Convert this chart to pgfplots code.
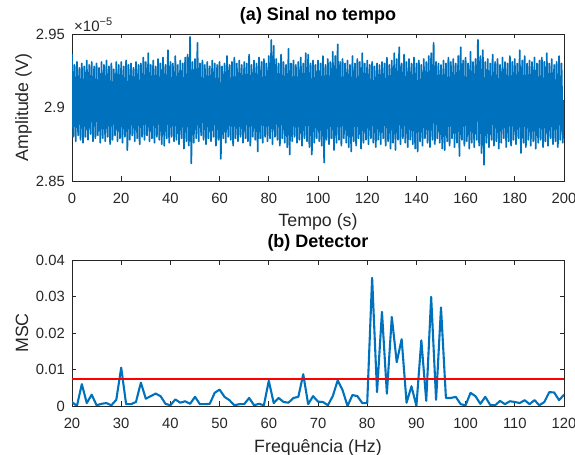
\documentclass[border=0pt]{standalone}
\usepackage{fontspec}
\setmainfont{Liberation Sans}
\usepackage{pgfplots}
\pgfplotsset{compat=1.18}
\definecolor{mblue}{RGB}{0,114,189}
\definecolor{axgray}{RGB}{38,38,38}
\pgfplotsset{
 mstyle/.style={
  scale only axis, width=492bp,
  axis line style={axgray, line width=0.7bp},
  tick style={axgray, line width=0.7bp},
  tick align=inside, major tick length=4.5bp,
  ticklabel style={font=\fontsize{14.8bp}{16bp}\selectfont, text=axgray},
  /pgf/number format/assume math mode=true,
  scaled ticks=false,
  yticklabel style={inner xsep=0pt, xshift=-7bp, anchor=east},
  xticklabel style={inner ysep=0pt, yshift=-12bp, anchor=north},
  label style={font=\fontsize{17.8bp}{20bp}\selectfont, text=axgray},
  xlabel style={at={(axis description cs:0.5,0)}, anchor=base, yshift=-46bp},
  ylabel style={at={(axis description cs:-0.0894,0.5)}, anchor=base},
 }
}
\begin{document}
\begin{tikzpicture}
\path[use as bounding box] (0,0) rectangle (575bp,455bp);
% ---------- (a) ----------
\begin{axis}[mstyle, name=a, height=147bp, at={(72bp,274bp)}, anchor=south west,
  xmin=0, xmax=200, ymin=2.85, ymax=2.95,
  xtick={0,20,40,60,80,100,120,140,160,180,200},
  xticklabels={0,20,40,60,80,100,120,140,160,180,200},
  ytick={2.85,2.9,2.95}, yticklabels={2.85,2.9,2.95},
  xlabel={Tempo (s)}, ylabel={Amplitude (V)},
  title={(a) Sinal no tempo},
  title style={font=\bfseries\fontsize{18bp}{20bp}\selectfont, at={(axis description cs:0.5,1)}, anchor=base, yshift=8bp},
]
\addplot[mblue, line width=1.7bp, line join=round] coordinates {
(0,2.905)
(0,2.936)(0.5,2.880)(1,2.929)(1.5,2.877)(2,2.931)(2.5,2.881)(3,2.927)(3.5,2.878)(4,2.930)(4.5,2.876)(5,2.928)(5.5,2.880)(6,2.932)(6.5,2.878)(7,2.929)(7.5,2.882)(8,2.931)(8.5,2.877)(9,2.928)(9.5,2.879)
(10,2.930)(10.5,2.881)(11,2.927)(11.5,2.876)(12,2.931)(12.5,2.879)(13,2.929)(13.5,2.877)(14,2.932)(14.5,2.880)(15,2.928)(15.5,2.875)(16,2.930)(16.5,2.878)(17,2.926)(17.5,2.881)(18,2.931)(18.5,2.877)(19,2.929)(19.5,2.879)
(20,2.931)(20.5,2.876)(21,2.928)(21.5,2.880)(22,2.932)(22.5,2.871)(23,2.929)(23.5,2.878)(24,2.930)(24.5,2.881)(25,2.927)(25.5,2.877)(26,2.931)(26.5,2.879)(27,2.929)(27.5,2.875)(28,2.930)(28.5,2.880)(29,2.934)(29.5,2.878)
(30,2.931)(30.5,2.881)(31,2.937)(31.5,2.877)(32,2.929)(32.5,2.879)(33,2.932)(33.5,2.876)(34,2.928)(34.5,2.880)(35,2.933)(35.5,2.878)(36,2.930)(36.5,2.875)(37,2.934)(37.5,2.874)(38,2.929)(38.5,2.879)(39,2.939)(39.5,2.876)
(40,2.931)(40.5,2.880)(41,2.930)(41.5,2.877)(42,2.935)(42.5,2.878)(43,2.929)(43.5,2.875)(44,2.932)(44.5,2.879)(45,2.930)(45.5,2.872)(46,2.934)(46.5,2.877)(47,2.936)(47.5,2.874)(48,2.948)(48.5,2.862)(49,2.931)(49.5,2.876)
(50,2.933)(50.5,2.879)(51,2.944)(51.5,2.877)(52,2.930)(52.5,2.881)(53,2.932)(53.5,2.878)(54,2.929)(54.5,2.875)(55,2.931)(55.5,2.879)(56,2.928)(56.5,2.877)(57,2.932)(57.5,2.880)(58,2.930)(58.5,2.874)(59,2.929)(59.5,2.878)
(60,2.931)(60.5,2.865)(61,2.928)(61.5,2.879)(62,2.930)(62.5,2.876)(63,2.935)(63.5,2.880)(64,2.929)(64.5,2.878)(65,2.931)(65.5,2.874)(66,2.934)(66.5,2.879)(67,2.930)(67.5,2.877)(68,2.932)(68.5,2.880)(69,2.929)(69.5,2.876)
(70,2.931)(70.5,2.879)(71,2.930)(71.5,2.877)(72,2.936)(72.5,2.874)(73,2.929)(73.5,2.880)(74,2.932)(74.5,2.878)(75,2.930)(75.5,2.870)(76,2.934)(76.5,2.879)(77,2.931)(77.5,2.876)(78,2.933)(78.5,2.880)(79,2.930)(79.5,2.877)
(80,2.935)(80.5,2.879)(81,2.946)(81.5,2.875)(82,2.942)(82.5,2.880)(83,2.933)(83.5,2.878)(84,2.930)(84.5,2.874)(85,2.936)(85.5,2.879)(86,2.931)(86.5,2.876)(87,2.929)(87.5,2.873)(88,2.940)(88.5,2.868)(89,2.930)(89.5,2.877)
(90,2.932)(90.5,2.880)(91,2.929)(91.5,2.876)(92,2.931)(92.5,2.878)(93,2.934)(93.5,2.874)(94,2.930)(94.5,2.879)(95,2.937)(95.5,2.877)(96,2.936)(96.5,2.873)(97,2.930)(97.5,2.868)(98,2.932)(98.5,2.876)(99,2.929)(99.5,2.879)
(100,2.932)(100.5,2.877)(101,2.930)(101.5,2.874)(102,2.935)(102.5,2.8625)(103,2.929)(103.5,2.878)(104,2.933)(104.5,2.875)(105,2.931)(105.5,2.879)(106,2.938)(106.5,2.871)(107,2.935)(107.5,2.876)(108,2.943)(108.5,2.878)(109,2.931)(109.5,2.874)
(110,2.933)(110.5,2.879)(111,2.930)(111.5,2.876)(112,2.932)(112.5,2.873)(113,2.929)(113.5,2.870)(114,2.935)(114.5,2.877)(115,2.930)(115.5,2.874)(116,2.933)(116.5,2.879)(117,2.931)(117.5,2.872)(118,2.937)(118.5,2.876)(119,2.930)(119.5,2.878)
(120,2.932)(120.5,2.875)(121,2.929)(121.5,2.879)(122,2.931)(122.5,2.876)(123,2.928)(123.5,2.873)(124,2.930)(124.5,2.878)(125,2.929)(125.5,2.875)(126,2.931)(126.5,2.879)(127,2.930)(127.5,2.874)(128,2.934)(128.5,2.877)(129,2.929)(129.5,2.872)
(130,2.932)(130.5,2.876)(131,2.937)(131.5,2.871)(132,2.933)(132.5,2.878)(133,2.941)(133.5,2.875)(134,2.930)(134.5,2.879)(135,2.936)(135.5,2.876)(136,2.931)(136.5,2.873)(137,2.933)(137.5,2.878)(138,2.930)(138.5,2.875)(139,2.934)(139.5,2.872)
(140,2.930)(140.5,2.870)(141,2.932)(141.5,2.877)(142,2.929)(142.5,2.874)(143,2.933)(143.5,2.879)(144,2.931)(144.5,2.876)(145,2.935)(145.5,2.873)(146,2.937)(146.5,2.878)(147,2.944)(147.5,2.875)(148,2.931)(148.5,2.879)(149,2.930)(149.5,2.876)
(150,2.929)(150.5,2.872)(151,2.932)(151.5,2.871)(152,2.930)(152.5,2.877)(153,2.934)(153.5,2.874)(154,2.931)(154.5,2.879)(155,2.933)(155.5,2.873)(156,2.930)(156.5,2.876)(157,2.935)(157.5,2.867)(158,2.941)(158.5,2.878)(159,2.932)(159.5,2.874)
(160,2.934)(160.5,2.877)(161,2.930)(161.5,2.872)(162,2.938)(162.5,2.876)(163,2.931)(163.5,2.873)(164,2.933)(164.5,2.878)(165,2.946)(165.5,2.874)(166,2.935)(166.5,2.869)(167,2.939)(167.5,2.861)(168,2.931)(168.5,2.876)(169,2.933)(169.5,2.873)
(170,2.930)(170.5,2.878)(171,2.936)(171.5,2.874)(172,2.931)(172.5,2.877)(173,2.933)(173.5,2.872)(174,2.929)(174.5,2.876)(175,2.934)(175.5,2.879)(176,2.931)(176.5,2.873)(177,2.930)(177.5,2.877)(178,2.935)(178.5,2.874)(179,2.931)(179.5,2.878)
(180,2.933)(180.5,2.875)(181,2.930)(181.5,2.879)(182,2.939)(182.5,2.869)(183,2.932)(183.5,2.876)(184,2.935)(184.5,2.873)(185,2.930)(185.5,2.878)(186,2.932)(186.5,2.874)(187,2.931)(187.5,2.877)(188,2.934)(188.5,2.872)(189,2.930)(189.5,2.876)
(190,2.932)(190.5,2.878)(191,2.934)(191.5,2.873)(192,2.931)(192.5,2.877)(193,2.937)(193.5,2.874)(194,2.930)(194.5,2.879)(195,2.933)(195.5,2.875)(196,2.929)(196.5,2.877)(197,2.931)(197.5,2.873)(198,2.935)(198.5,2.878)(199,2.930)(199.5,2.876)(200,2.905)
};
\end{axis}
\node[anchor=base west, inner sep=0pt, text=axgray, font=\fontsize{15bp}{16bp}\selectfont] at ([xshift=2bp, yshift=2.5bp]a.north west) {×10\raisebox{0.42em}{\fontsize{11bp}{12bp}\selectfont −5}};
% ---------- (b) ----------
\begin{axis}[mstyle, height=146bp, at={(72bp,49bp)}, anchor=south west,
  xmin=20, xmax=120, ymin=0, ymax=0.04,
  xtick={20,30,40,50,60,70,80,90,100,110,120},
  xticklabels={20,30,40,50,60,70,80,90,100,110,120},
  ytick={0,0.01,0.02,0.03,0.04}, yticklabels={0,0.01,0.02,0.03,0.04},
  xlabel={Frequência (Hz)}, ylabel={MSC},
  title={(b) Detector},
  title style={font=\bfseries\fontsize{18bp}{20bp}\selectfont, at={(axis description cs:0.5,1)}, anchor=base, yshift=7bp},
]
\addplot[mblue, line width=2.1bp, line join=round] coordinates {
(20,0.0011)(21,0)(22,0.0060)(23,0.0008)(24,0.0031)(25,0.0002)(26,0.0006)(27,0.0008)(28,0.0002)(29,0.0017)
(30,0.0105)(31,0.0005)(32,0.0005)(33,0.0011)(34,0.0064)(35,0.0020)(36,0.0027)(37,0.0034)(38,0.0027)(39,0.0006)
(40,0.0002)(41,0.0018)(42,0.0009)(43,0.0013)(44,0.0006)(45,0.0025)(46,0.0005)(47,0.0005)(48,0.0006)(49,0.0036)
(50,0.0045)(51,0.0025)(52,0.0016)(53,0.0002)(54,0.0005)(55,0.0005)(56,0.0022)(57,0.0002)(58,0.0006)(59,0.0002)
(60,0.0069)(61,0.0008)(62,0.0022)(63,0.0011)(64,0.0009)(65,0.0022)(66,0.0025)(67,0.0087)(68,0.0005)(69,0.0027)
(70,0.0012)(71,0.0011)(72,0.0002)(73,0.0027)(74,0.0070)(75,0.0043)(76,0)(77,0.0030)(78,0.0027)(79,0.0008)
(80,0.0008)(81,0.0351)(82,0.0038)(83,0.0258)(84,0.0034)(85,0.0244)(86,0.0120)(87,0.0183)(88,0.0009)(89,0.0054)
(90,0)(91,0.0180)(92,0.0014)(93,0.0299)(94,0.0017)(95,0.0270)(96,0.0022)(97,0.0022)(98,0.0025)(99,0.0005)
(100,0.0002)(101,0.0036)(102,0.0027)(103,0.0006)(104,0.0025)(105,0.0003)(106,0.0002)(107,0.0014)(108,0.0005)(109,0.0013)
(110,0.0011)(111,0.0008)(112,0.0016)(113,0.0005)(114,0.0016)(115,0.0002)(116,0.0011)(117,0.0038)(118,0.0037)(119,0.0016)
(120,0.0031)
};
\addplot[red, line width=2.1bp] coordinates {(20,0.0075)(120,0.0075)};
\end{axis}
\end{tikzpicture}
\end{document}
